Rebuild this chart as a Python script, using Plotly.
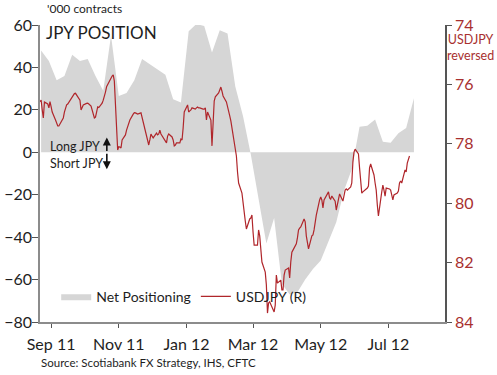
import pandas as pd
import plotly.graph_objects as go

# Net positioning ('000 contracts), weekly (CFTC, Tuesdays)
pos_start = "2011-08-23"
net_positioning = [48, 43, 34, 36, 46, 43, 44, 36, 29, 55,
                   26.5, 28, 34, 44, 41.5, 39, 36.5, 25, 23.5,
                   57, 60.5, 59.5, 47, 57.5, 56, 31, 17, -1,
                   -23, -43, -31, -62, -67, -66, -60, -55, -51, -42, -33, -18, -8,
                   12, 12.5, 15.5, 5, 4.5, 9, 11.5, 25.5]

# USDJPY daily (business days), starting Mon 22 Aug 2011, one row per week
fx_start = "2011-08-22"
usdjpy_weeks = [
    [76.58, 76.53, 76.86, 77.13, 76.59],
    [76.66, 76.79, 76.58, 76.75, 76.93],
    [77.20, 77.31, 77.40, 77.40, 77.33],
    [77.13, 76.93, 76.76, 76.69, 76.66],
    [76.47, 76.42, 76.36, 76.31, 76.30],
    [76.46, 76.53, 76.86, 76.79, 76.69],
    [76.64, 76.63, 76.66, 76.69, 76.73],
    [77.13, 77.10, 76.93, 76.76, 76.78],
    [76.63, 76.53, 76.42, 76.26, 76.08],
    [75.85, 75.75, 75.72, 75.68, 75.89],
    [78.21, 78.10, 78.11, 78.14, 77.87],
    [77.70, 77.54, 77.43, 77.30, 77.20],
    [77.00, 76.95, 76.96, 76.98, 77.00],
    [76.96, 77.13, 77.30, 77.47, 77.64],
    [78.04, 77.87, 77.67, 77.74, 77.80],
    [77.64, 77.70, 77.67, 77.54, 77.67],
    [77.84, 77.91, 77.97, 77.74, 77.67],
    [77.77, 77.87, 78.07, 78.04, 77.97],
    [77.97, 77.84, 77.87, 77.47, 76.93],
    [76.69, 76.93, 76.89, 76.86, 76.79],
    [76.83, 76.79, 76.76, 76.79, 76.79],
    [76.83, 76.83, 76.79, 77.20, 76.93],
    [77.20, 78.07, 77.37, 76.56, 76.42],
    [76.29, 76.19, 76.09, 76.23, 76.39],
    [76.59, 76.79, 76.86, 77.06, 77.23],
    [78.04, 78.24, 78.41, 78.95, 79.32],
    [79.66, 80.06, 80.33, 80.60, 80.87],
    [80.53, 80.50, 80.40, 80.97, 81.41],
    [81.41, 80.90, 81.10, 81.58, 81.98],
    [82.32, 82.75, 83.70, 83.36, 83.32],
    [83.63, 83.66, 83.43, 82.42, 82.69],
    [82.59, 82.92, 82.92, 82.42, 82.25],
    [82.18, 82.52, 81.98, 81.65, 81.58],
    [81.37, 81.17, 80.90, 80.84, 80.80],
    [80.53, 80.63, 81.10, 81.37, 81.54],
    [81.10, 81.07, 80.90, 80.63, 80.40],
    [79.89, 79.79, 79.89, 80.16, 79.89],
    [79.69, 79.62, 79.82, 79.86, 79.76],
    [79.93, 80.23, 80.06, 79.82, 79.69],
    [79.93, 79.76, 79.56, 79.52, 79.56],
    [79.45, 79.32, 78.61, 78.28, 78.18],
    [78.34, 78.81, 79.29, 79.66, 79.62],
    [79.52, 79.49, 79.42, 78.81, 78.68],
    [79.05, 79.32, 79.56, 80.06, 80.43],
    [79.62, 79.39, 79.56, 79.76, 79.49],
    [79.52, 79.56, 79.69, 79.89, 79.72],
    [79.66, 79.59, 79.32, 79.25, 79.32],
    [78.88, 78.95, 78.65, 78.55, 78.41],
]
usdjpy = [v for week in usdjpy_weeks for v in week]

left_ticks = [-80, -60, -40, -20, 0, 20, 40, 60]
right_ticks = [74, 76, 78, 80, 82, 84]
x_ticks = ["2011-09-01", "2011-11-01", "2012-01-01", "2012-03-01", "2012-05-01", "2012-07-01"]
x_tick_labels = ["Sep 11", "Nov 11", "Jan 12", "Mar 12", "May 12", "Jul 12"]

pos_dates = pd.date_range(pos_start, periods=len(net_positioning), freq="7D")
fx_dates = pd.bdate_range(fx_start, periods=len(usdjpy))

FONT = "Lato, Calibri, Arial, sans-serif"
RED = "#b0262b"
RED_TXT = "#a8302f"
GRAY = "#d6d6d6"
TXT = "#1e1e1e"

fig = go.Figure()
fig.add_trace(go.Scatter(x=pos_dates, y=net_positioning, name="Net Positioning",
                         mode="lines", line=dict(width=0, color=GRAY),
                         fill="tozeroy", fillcolor=GRAY, yaxis="y"))
fig.add_trace(go.Scatter(x=fx_dates, y=usdjpy, name="USDJPY (R)", mode="lines",
                         line=dict(color=RED, width=1.2), yaxis="y2"))

fig.update_layout(
    width=497, height=375,
    margin=dict(l=40, r=52, t=25, b=53, autoexpand=False),
    paper_bgcolor="white", plot_bgcolor="white",
    font=dict(family=FONT, color=TXT),
    showlegend=True,
    legend=dict(orientation="h", x=0.04, y=0.085, xanchor="left", yanchor="middle",
                bgcolor="rgba(0,0,0,0)", font=dict(size=14, color=TXT),
                itemwidth=30, tracegroupgap=0),
    xaxis=dict(type="date", range=["2011-08-22", "2012-08-21"], automargin=False,
               tickvals=x_ticks, ticktext=x_tick_labels,
               showgrid=False, zeroline=False, showline=True, linecolor="#8c8c8c",
               linewidth=1.5, ticks="outside", ticklen=4, tickcolor="#555",
               tickfont=dict(size=16, color=TXT), ticklabelstandoff=3),
    yaxis=dict(range=[-80, 60], tickvals=left_ticks, showgrid=False, zeroline=False,
               automargin=False,
               showline=True, linecolor="#8c8c8c", linewidth=1.5, ticks="outside",
               ticklen=6, tickcolor="#555", tickfont=dict(size=16, color=TXT),
               ticklabelstandoff=-3),
    yaxis2=dict(range=[84, 74], tickvals=right_ticks, overlaying="y", side="right",
                automargin=False,
                showgrid=False, zeroline=False, showline=True, linecolor="#555",
                linewidth=1.5, ticks="outside", ticklen=5, tickcolor="#555",
                tickfont=dict(size=16, color=RED_TXT)),
)

annotations = [
    dict(text="'000 contracts", x=0.012, y=1.057, xref="paper", yref="paper",
         xanchor="left", yanchor="middle", showarrow=False, font=dict(size=12, color=TXT)),
    dict(text="JPY POSITION", x=0.01, y=0.975, xref="paper", yref="paper",
         xanchor="left", yanchor="middle", showarrow=False, font=dict(size=17, color=TXT)),
    dict(text="USDJPY<br>reversed", x=1.062, y=0.924, xref="paper", yref="paper",
         xanchor="center", yanchor="middle", showarrow=False,
         font=dict(size=12.5, color=RED_TXT)),
    dict(text="Source: Scotiabank FX Strategy, IHS, CFTC", x=-0.003, y=-0.135,
         xref="paper", yref="paper", xanchor="left", yanchor="middle", showarrow=False,
         font=dict(size=11.5, color=TXT)),
    dict(text="Long JPY", x=0.02, y=2.8, xref="paper", yref="y", xanchor="left",
         yanchor="middle", showarrow=False, font=dict(size=12.5, color=TXT)),
    dict(text="Short JPY", x=0.02, y=-5.5, xref="paper", yref="y", xanchor="left",
         yanchor="middle", showarrow=False, font=dict(size=12.5, color=TXT)),
    dict(text="", x=0.165, y=7, xref="paper", yref="y", ax=0, ay=15, showarrow=True,
         arrowhead=2, arrowsize=1, arrowwidth=1.6, arrowcolor="#111"),
    dict(text="", x=0.165, y=-8, xref="paper", yref="y", ax=0, ay=-17, showarrow=True,
         arrowhead=2, arrowsize=1, arrowwidth=1.6, arrowcolor="#111"),
]
fig.update_layout(annotations=annotations)

fig.write_html("out.html", config={"displayModeBar": False},
               post_script="document.body.style.margin='0px';")
